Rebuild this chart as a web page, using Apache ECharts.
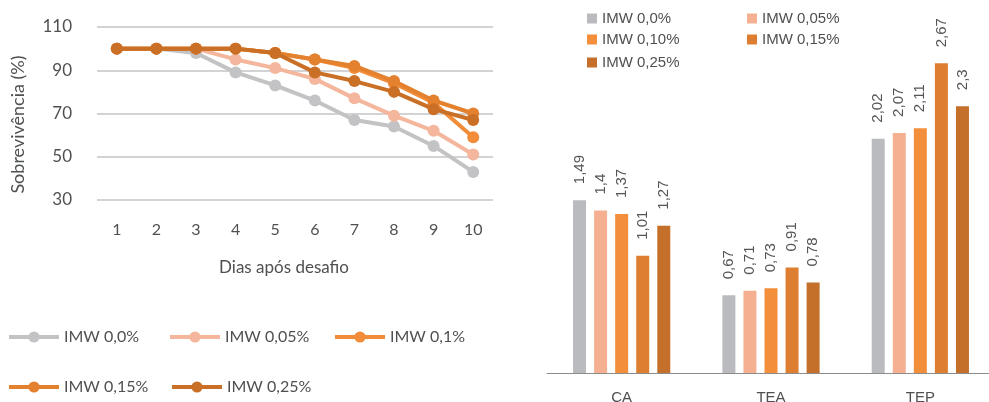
<!DOCTYPE html>
<html>
<head>
<meta charset="utf-8">
<script src="https://cdn.jsdelivr.net/npm/echarts@6/dist/echarts.min.js"></script>
<style>html,body{margin:0;padding:0;background:#fff;}#c{width:989px;height:402px;}</style>
</head>
<body>
<div id="c"></div>
<script>
// ---- Line chart data (survival %) ----
const days = ['1','2','3','4','5','6','7','8','9','10'];
const lineNames = ['IMW 0,0%','IMW 0,05%','IMW 0,1%','IMW 0,15%','IMW 0,25%'];
const imw000 = [100,100,98,89,83,76,67,64,55,43];
const imw005 = [100,100,100,95,91,86,77,69,62,51];
const imw010 = [100,100,100,100,98,95,91,84,75,59];
const imw015 = [100,100,100,100,98,95,92,85,76,70];
const imw025 = [100,100,100,100,98,89,85,80,72,67];
const yTicks = [30,50,70,90,110];

// ---- Bar chart data ----
const barCats = ['CA','TEA','TEP'];
const barNames = ['IMW 0,0%','IMW 0,05%','IMW 0,10%','IMW 0,15%','IMW 0,25%'];
const bar000 = [1.49,0.67,2.02];
const bar005 = [1.4,0.71,2.07];
const bar010 = [1.37,0.73,2.11];
const bar015 = [1.01,0.91,2.67];
const bar025 = [1.27,0.78,2.3];

const lineColors = ['#C3C3C5','#F4B69C','#F28C38','#E3812F','#C96F26'];
const barColors = ['#BABBBE','#F5B092','#F38E3B','#DE7E30','#C4702A'];
const lineData = [imw000,imw005,imw010,imw015,imw025];
const barData = [bar000,bar005,bar010,bar015,bar025];

const txt = '#4F5052';
const lineFont = 'Lato';
const barFont = 'Liberation Sans';

const lineSeries = lineNames.map((n,i)=>({
  name: n, type:'line', xAxisIndex:0, yAxisIndex:0,
  data: lineData[i], symbol:'circle', symbolSize:12,
  lineStyle:{width:4,color:lineColors[i]},
  itemStyle:{color:lineColors[i]}, z: 2+i
}));
const barSeries = barNames.map((n,i)=>({
  name: n+' ', type:'bar', xAxisIndex:1, yAxisIndex:1,
  data: barData[i], barWidth:13, barGap:'62%',
  itemStyle:{color:barColors[i]},
  label:{show:true, position:'top', rotate:90, align:'left', verticalAlign:'middle',
    distance:16, color:'#555555', fontFamily:barFont, fontSize:15,
    formatter:p=>String(p.value).replace('.',',')}
}));

// Legends
const lineLegPos = [[7,329],[168,329],[333,329],[7,379],[170,379]];
const barLegPos = [[587,11],[747,11],[587,32],[747,32],[587,55]];
const legends = [];
lineNames.forEach((n,i)=>legends.push({
  data:[n], left:lineLegPos[i][0], top:lineLegPos[i][1], padding:0,
  itemWidth:50, itemHeight:14, itemGap:5,
  lineStyle:{width:4},
  textStyle:{color:txt, fontFamily:lineFont, fontSize:16}
}));
barNames.forEach((n,i)=>legends.push({
  data:[{name:n+' ', icon:'rect'}], left:barLegPos[i][0], top:barLegPos[i][1], padding:0,
  itemWidth:10, itemHeight:10, itemGap:4,
  textStyle:{color:txt, fontFamily:barFont, fontSize:15}
}));

const chart = echarts.init(document.getElementById('c'));
chart.setOption({
  animation:false,
  backgroundColor:'#fff',
  legend: legends,
  grid:[
    {left:97, right:496, top:27, bottom:202, outerBoundsMode:'none', containLabel:false},
    {left:547, right:-6, top:25, bottom:29, outerBoundsMode:'none', containLabel:false}
  ],
  xAxis:[
    {type:'category', gridIndex:0, data:days, boundaryGap:true,
     axisLine:{show:false}, axisTick:{show:false},
     axisLabel:{color:txt, fontFamily:lineFont, fontSize:16, margin:22},
     name:'Dias após desafio', nameLocation:'middle', nameGap:59,
     nameTextStyle:{color:txt, fontFamily:lineFont, fontSize:17, padding:[0,22,0,0]}},
    {type:'category', gridIndex:1, data:barCats,
     axisLine:{show:true, lineStyle:{color:'#8C8C8C', width:1}}, axisTick:{show:false},
     axisLabel:{color:txt, fontFamily:barFont, fontSize:15, margin:17}}
  ],
  yAxis:[
    {type:'value', gridIndex:0, min:30, max:110, interval:20,
     axisLine:{show:false}, axisTick:{show:false},
     axisLabel:{color:txt, fontFamily:lineFont, fontSize:17, margin:25,
       formatter:v=>yTicks.includes(v)?String(v):''},
     splitLine:{lineStyle:{color:'#C4C4C4', width:1.5}},
     name:'Sobrevivência (%)', nameLocation:'middle', nameRotate:90, nameGap:70,
     nameTextStyle:{color:txt, fontFamily:lineFont, fontSize:18, padding:[0,22,0,0]}},
    {type:'value', gridIndex:1, min:0, max:3, show:false, splitLine:{show:false}}
  ],
  series: lineSeries.concat(barSeries)
});
</script>
</body>
</html>
